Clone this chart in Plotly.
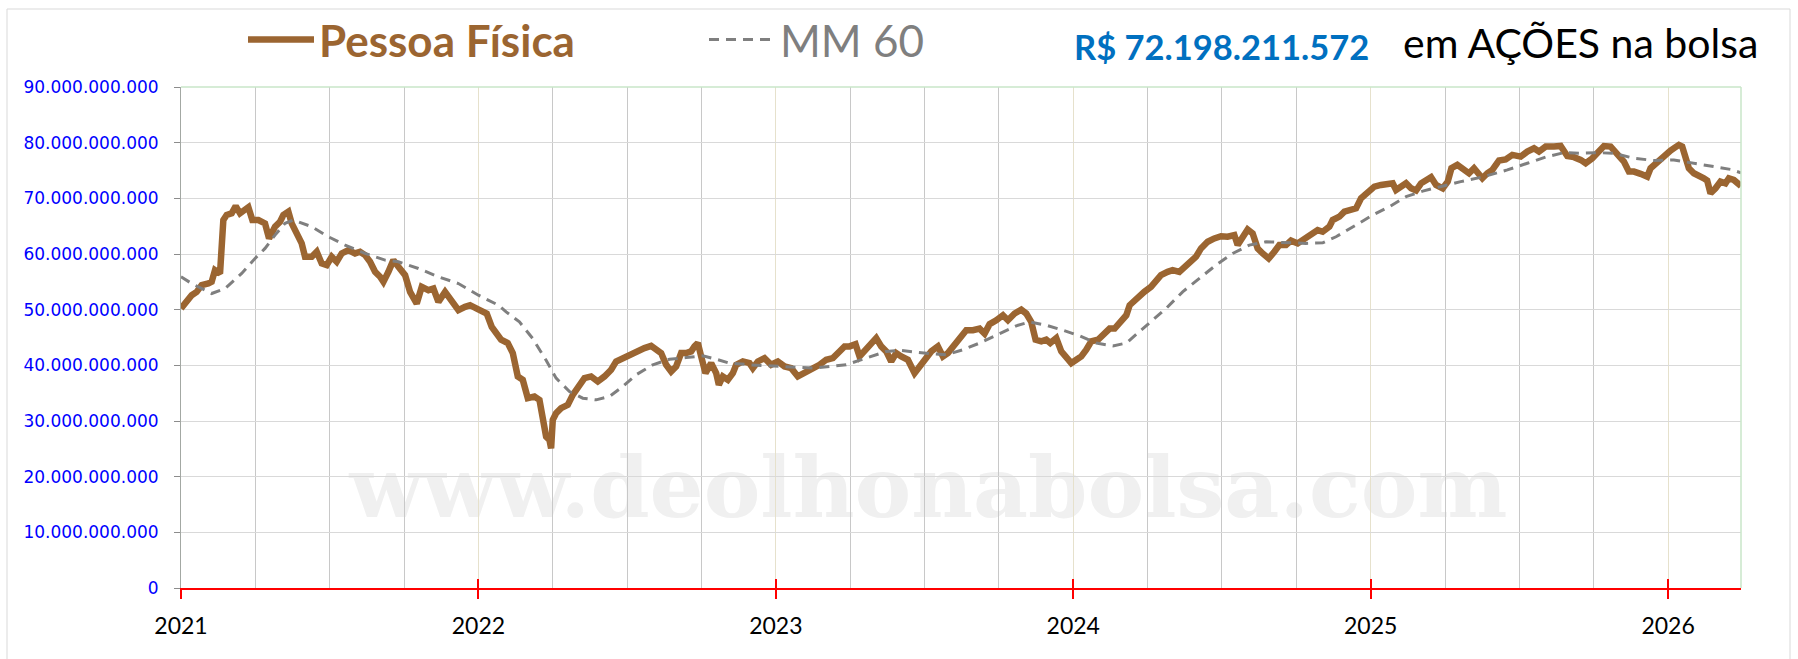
import plotly.graph_objects as go

# ---------------- data (values in billions of R$) ----------------
pf_year = [2021.000, 2021.0135, 2021.0359, 2021.0527, 2021.0695, 2021.0919, 2021.1031, 2021.1143, 2021.1312, 2021.1424,
           2021.1536, 2021.1704, 2021.1839, 2021.1984, 2021.2096, 2021.2265, 2021.2399, 2021.2601, 2021.2825, 2021.2960,
           2021.3161, 2021.3330, 2021.3442, 2021.3610, 2021.3722, 2021.3890, 2021.4058, 2021.4170, 2021.4395, 2021.4563,
           2021.4731, 2021.4899, 2021.5067, 2021.5235, 2021.5404, 2021.5628, 2021.5852, 2021.6020, 2021.6188, 2021.6357,
           2021.6525, 2021.6693, 2021.6805, 2021.6973, 2021.7141, 2021.7309, 2021.7534, 2021.7702, 2021.7926, 2021.8094,
           2021.8318, 2021.8487, 2021.8655, 2021.8879, 2021.9103, 2021.9327, 2021.9552, 2021.9720, 2021.9944, 2022.0112,
           2022.0280, 2022.0448, 2022.0617, 2022.0762, 2022.0987, 2022.1155, 2022.1323, 2022.1491, 2022.1659, 2022.1883,
           2022.2052, 2022.2164, 2022.2276, 2022.2388, 2022.2444, 2022.2500, 2022.2612, 2022.2780, 2022.3004, 2022.3173,
           2022.3397, 2022.3565, 2022.3789, 2022.4013, 2022.4238, 2022.4462, 2022.4630, 2022.4854, 2022.5078, 2022.5247,
           2022.5415, 2022.5583, 2022.5807, 2022.5975, 2022.6143, 2022.6312, 2022.6480, 2022.6648, 2022.6816, 2022.6984,
           2022.7152, 2022.7265, 2022.7377, 2022.7489, 2022.7635, 2022.7825, 2022.7993, 2022.8083, 2022.8217, 2022.8386,
           2022.8554, 2022.8666, 2022.8890, 2022.9114, 2022.9226, 2022.9395, 2022.9619, 2022.9843, 2023.0067, 2023.0291,
           2023.0516, 2023.0740, 2023.0964, 2023.1188, 2023.1469, 2023.1693, 2023.1917, 2023.2141, 2023.2309, 2023.2478,
           2023.2679, 2023.2814, 2023.3038, 2023.3206, 2023.3374, 2023.3543, 2023.3711, 2023.3879, 2023.4047, 2023.4215,
           2023.4439, 2023.4664, 2023.4832, 2023.5000, 2023.5224, 2023.5448, 2023.5617, 2023.5785, 2023.5953, 2023.6177,
           2023.6401, 2023.6626, 2023.6850, 2023.7018, 2023.7186, 2023.7410, 2023.7635, 2023.7803, 2023.8027, 2023.8251,
           2023.8419, 2023.8587, 2023.8733, 2023.8924, 2023.9092, 2023.9226, 2023.9428, 2023.9596, 2023.9765, 2023.9933,
           2024.0101, 2024.0269, 2024.0437, 2024.0605, 2024.0830, 2024.1054, 2024.1222, 2024.1390, 2024.1558, 2024.1783,
           2024.1895, 2024.2074, 2024.2164, 2024.2388, 2024.2612, 2024.2780, 2024.2948, 2024.3173, 2024.3341, 2024.3565,
           2024.3733, 2024.3901, 2024.4126, 2024.4294, 2024.4518, 2024.4742, 2024.4966, 2024.5191, 2024.5415, 2024.5527,
           2024.5695, 2024.5863, 2024.6031, 2024.6200, 2024.6368, 2024.6570, 2024.6760, 2024.6928, 2024.7152, 2024.7321,
           2024.7545, 2024.7769, 2024.7993, 2024.8217, 2024.8386, 2024.8610, 2024.8722, 2024.8946, 2024.9114, 2024.9283,
           2024.9507, 2024.9675, 2024.9899, 2025.0123, 2025.0348, 2025.0572, 2025.0740, 2025.0852, 2025.1020, 2025.1188,
           2025.1357, 2025.1525, 2025.1693, 2025.1917, 2025.2029, 2025.2197, 2025.2422, 2025.2590, 2025.2713, 2025.2914,
           2025.3138, 2025.3306, 2025.3474, 2025.3642, 2025.3754, 2025.3922, 2025.4090, 2025.4314, 2025.4538, 2025.4762,
           2025.5042, 2025.5266, 2025.5490, 2025.5658, 2025.5882, 2025.6162, 2025.6386, 2025.6610, 2025.6834, 2025.7058,
           2025.7226, 2025.7450, 2025.7674, 2025.7842, 2025.8066, 2025.8290, 2025.8513, 2025.8681, 2025.8849, 2025.9073,
           2025.9297, 2025.9409, 2025.9633, 2025.9857, 2026.0081, 2026.0249, 2026.0361, 2026.0473, 2026.0585, 2026.0697,
           2026.0865, 2026.1033, 2026.1201, 2026.1313, 2026.1425, 2026.1593, 2026.1761, 2026.1929, 2026.2041, 2026.2209,
           2026.2377, 2026.2450]
pf_value = [50.2, 51.1, 52.6, 53.2, 54.4, 54.7, 55.0, 57.1, 56.5, 66.1,
            67.0, 67.3, 68.6, 67.3, 67.9, 68.4, 66.1, 66.1, 65.5, 62.8,
            64.9, 65.8, 67.0, 67.6, 65.5, 63.7, 61.9, 59.5, 59.5, 60.4,
            58.3, 58.0, 59.5, 58.6, 60.1, 60.7, 60.1, 60.4, 59.8, 58.6,
            56.8, 55.9, 55.0, 56.8, 58.9, 57.7, 56.2, 53.2, 51.1, 54.1,
            53.5, 53.8, 51.4, 53.2, 51.7, 49.9, 50.5, 50.8, 50.2, 49.9,
            49.3, 46.9, 45.7, 44.6, 44.0, 42.2, 38.0, 37.4, 34.1, 34.4,
            33.8, 30.8, 27.2, 26.6, 25.1, 30.2, 31.4, 32.3, 32.9, 34.7,
            36.2, 37.7, 38.0, 37.1, 38.0, 39.2, 40.7, 41.3, 41.9, 42.2,
            42.8, 43.1, 43.5, 42.8, 42.2, 40.1, 38.9, 39.8, 42.2, 42.2,
            42.5, 43.4, 44.0, 41.6, 38.6, 40.4, 38.6, 36.5, 38.0, 37.4,
            38.6, 40.1, 40.7, 40.4, 39.5, 40.7, 41.3, 40.1, 40.7, 39.8,
            39.5, 38.0, 38.6, 39.2, 40.1, 41.0, 41.3, 42.5, 43.4, 43.4,
            43.8, 41.6, 42.8, 43.7, 44.9, 43.4, 42.5, 40.7, 42.2, 41.6,
            41.0, 38.6, 39.8, 41.3, 42.5, 43.4, 41.6, 42.2, 43.4, 45.1,
            46.3, 46.3, 46.6, 45.7, 47.4, 48.1, 49.0, 48.1, 49.3, 50.0,
            49.3, 47.8, 44.6, 44.3, 44.6, 44.0, 44.9, 42.5, 41.3, 40.4,
            41.0, 41.6, 42.8, 44.3, 44.6, 46.0, 46.6, 46.6, 47.8, 49.0,
            50.8, 51.7, 52.3, 53.2, 54.1, 55.0, 56.2, 56.8, 57.1, 56.8,
            57.7, 58.6, 59.5, 61.0, 62.2, 62.8, 63.2, 63.1, 63.4, 61.6,
            62.8, 64.4, 63.7, 61.0, 60.1, 59.2, 60.4, 61.6, 61.6, 62.4,
            61.9, 62.8, 63.7, 64.3, 64.0, 64.9, 66.1, 66.7, 67.6, 67.9,
            68.2, 70.0, 70.9, 72.1, 72.4, 72.6, 72.7, 71.5, 72.1, 72.7,
            71.8, 71.4, 72.7, 73.3, 73.8, 72.4, 71.8, 73.0, 75.4, 76.0,
            75.1, 74.5, 75.4, 74.2, 73.6, 74.5, 75.1, 76.8, 77.0, 77.8,
            77.5, 78.4, 79.0, 78.4, 79.3, 79.3, 79.4, 77.6, 77.4, 76.9,
            76.3, 77.2, 78.7, 79.4, 79.3, 78.1, 76.6, 74.8, 74.8, 74.4,
            73.9, 75.4, 76.6, 77.5, 78.6, 79.2, 79.6, 79.3, 77.5, 75.4,
            74.5, 74.2, 73.6, 73.2, 70.9, 71.8, 73.0, 72.7, 73.6, 73.3,
            72.4, 72.198211572]

mm_year = [2021.000, 2021.0359, 2021.1031, 2021.1480, 2021.2040, 2021.2489, 2021.2825, 2021.3161, 2021.3498, 2021.3778,
           2021.4395, 2021.4955, 2021.5516, 2021.6188, 2021.6861, 2021.7309, 2021.7982, 2021.8655, 2021.9327, 2022.0000,
           2022.0673, 2022.0931, 2022.1379, 2022.1827, 2022.2276, 2022.2612, 2022.3061, 2022.3509, 2022.3957, 2022.4406,
           2022.4854, 2022.5303, 2022.5863, 2022.6424, 2022.6984, 2022.7545, 2022.7993, 2022.8442, 2022.9114, 2022.9787,
           2023.0460, 2023.1244, 2023.2365, 2023.3038, 2023.3711, 2023.4159, 2023.4608, 2023.5168, 2023.5729, 2023.6289,
           2023.6850, 2023.7522, 2023.8083, 2023.8531, 2023.9092, 2023.9652, 2024.0213, 2024.0774, 2024.1334, 2024.1783,
           2024.2556, 2024.3117, 2024.3677, 2024.4238, 2024.4798, 2024.5359, 2024.5919, 2024.6480, 2024.7152, 2024.7825,
           2024.8386, 2024.8834, 2024.9507, 2025.0067, 2025.0628, 2025.1188, 2025.1749, 2025.2309, 2025.3026, 2025.3810,
           2025.4594, 2025.5266, 2025.5938, 2025.6498, 2025.7058, 2025.7618, 2025.8178, 2025.8849, 2025.9521, 2026.0193,
           2026.0865, 2026.1537, 2026.2097, 2026.2450]
mm_value = [55.9, 54.7, 52.9, 53.8, 56.5, 59.2, 61.0, 63.4, 65.5, 66.1,
            64.9, 63.1, 61.6, 60.1, 58.9, 58.6, 57.4, 55.9, 54.7, 52.6,
            50.8, 49.6, 47.8, 44.8, 40.9, 37.7, 35.3, 34.1, 33.8, 34.4,
            36.2, 38.3, 40.1, 41.1, 41.4, 41.7, 41.1, 40.4, 40.1, 39.9,
            39.6, 39.5, 40.1, 41.3, 42.5, 42.7, 42.4, 42.1, 41.9, 42.8,
            44.0, 45.7, 47.1, 47.8, 47.2, 46.3, 45.3, 44.0, 43.5, 44.0,
            47.6, 50.2, 53.2, 55.6, 58.0, 60.1, 61.6, 62.2, 62.0, 61.9,
            62.0, 63.1, 65.2, 67.0, 68.5, 70.3, 71.3, 72.1, 73.0, 73.9,
            75.1, 76.3, 77.5, 78.2, 78.1, 78.2, 78.1, 77.2, 76.8, 76.9,
            76.3, 75.7, 75.2, 74.6]

year_ticks = [2021, 2022, 2023, 2024, 2025, 2026]
year_labels = ["2021", "2022", "2023", "2024", "2025", "2026"]
series_names = ["Pessoa Física", "MM 60"]
total_label = "R$ 72.198.211.572"
total_suffix = "em AÇÕES na bolsa"
watermark = "www.deolhonabolsa.com"

BILLION = 1e9
BROWN = "#9b6531"
GREY = "#7f7f7f"

# ---------------- layout geometry helpers (pixels -> paper) ----------------
W, H = 1798, 659
ML, MR, MT, MB = 181, 57, 87, 71
PW, PH = W - ML - MR, H - MT - MB


def fx(px):
    return (px - ML) / PW


def fy(py):
    return (H - MB - py) / PH


fig = go.Figure()
fig.add_trace(go.Scatter(
    x=pf_year, y=[v * BILLION for v in pf_value], mode="lines",
    name="<span style='color:%s'><b>%s</b></span>" % (BROWN, series_names[0]),
    line=dict(color=BROWN, width=6.5), hoverinfo="skip"))
fig.add_trace(go.Scatter(
    x=mm_year, y=[v * BILLION for v in mm_value], mode="lines",
    name="<span style='color:%s'>%s</span>" % (GREY, series_names[1]),
    line=dict(color=GREY, width=3, dash="10px,7px"), hoverinfo="skip"))
# helper trace so the overlay axis (inside half of the crossing year ticks) is drawn
fig.add_trace(go.Scatter(x=[year_ticks[0]], y=[0], xaxis="x2", mode="markers",
                         marker=dict(opacity=0), showlegend=False, hoverinfo="skip"))

fig.update_layout(
    width=W, height=H,
    margin=dict(l=ML, r=MR, t=MT, b=MB, pad=0, autoexpand=False),
    paper_bgcolor="white", plot_bgcolor="white",
    separators=",.",
    showlegend=True,
    legend=dict(orientation="h", x=fx(243), xanchor="left", y=fy(40), yanchor="middle",
                font=dict(family="Lato", size=44, color=GREY),
                itemwidth=66, entrywidth=380, entrywidthmode="pixels",
                bgcolor="rgba(0,0,0,0)", borderwidth=0),
    xaxis=dict(range=[2021, 2026.245], tickmode="array", tickvals=year_ticks, ticktext=year_labels,
               ticks="outside", ticklen=9, tickwidth=1.5, tickcolor="red",
               showline=True, linecolor="red", linewidth=1.5,
               showgrid=True, gridcolor="#e6e1cc", gridwidth=1,
               minor=dict(tick0=2021, dtick=0.25, showgrid=True, gridcolor="#c8c8c8", gridwidth=1, ticks=""),
               zeroline=False, tickfont=dict(family="Lato", size=23, color="black"),
               ticklabelstandoff=8, fixedrange=True, automargin=False),
    xaxis2=dict(overlaying="x", matches="x", anchor="y", side="bottom",
                tickmode="array", tickvals=year_ticks, ticks="inside", ticklen=9, tickwidth=1.5,
                tickcolor="red", showticklabels=False, showgrid=False, showline=False, zeroline=False),
    yaxis=dict(range=[0, 90 * BILLION], tick0=0, dtick=10 * BILLION, tickformat=",d",
               ticks="outside", ticklen=6, tickcolor="#8c8c8c", showline=True, linecolor="#a3a8a3", linewidth=1,
               showgrid=True, gridcolor="#d9d9d9", gridwidth=1, zeroline=False,
               tickfont=dict(family="DejaVu Sans", size=17, color="blue"),
               ticklabelstandoff=12, fixedrange=True, automargin=False),
    shapes=[
        # watermark, under the gridlines
        dict(type="rect", xref="paper", yref="paper", x0=fx(344), x1=fx(1513), y0=fy(522), y1=fy(442),
             line=dict(width=0), fillcolor="rgba(0,0,0,0)", layer="below",
             label=dict(text="<b>%s</b>" % watermark, textposition="middle center",
                        font=dict(family="DejaVu Serif", size=85, color="#f0f0f0"))),
        # light green top and right plot border
        dict(type="line", xref="paper", yref="paper", x0=0, x1=1, y0=1, y1=1,
             line=dict(color="#c9e6c9", width=1.5), layer="above"),
        dict(type="line", xref="paper", yref="paper", x0=1, x1=1, y0=0, y1=1,
             line=dict(color="#c9e6c9", width=1.5), layer="above"),
        # outer chart border
        dict(type="rect", xref="paper", yref="paper", x0=fx(7), x1=fx(1790), y0=fy(670), y1=fy(9),
             line=dict(color="#d9d9d9", width=1), fillcolor="rgba(0,0,0,0)", layer="below"),
    ],
    annotations=[
        dict(xref="paper", yref="paper", x=fx(1072), y=fy(46), xanchor="left", yanchor="middle",
             text="<b>%s</b>" % total_label, showarrow=False,
             font=dict(family="Lato", size=34.5, color="#0070c0")),
        dict(xref="paper", yref="paper", x=fx(1401), y=fy(42), xanchor="left", yanchor="middle",
             text=total_suffix, showarrow=False,
             font=dict(family="Lato", size=41, color="black")),
    ],
)

fig.write_html("out.html", config={"displayModeBar": False},
               post_script="document.body.style.margin='0';document.body.style.overflow='hidden';")
